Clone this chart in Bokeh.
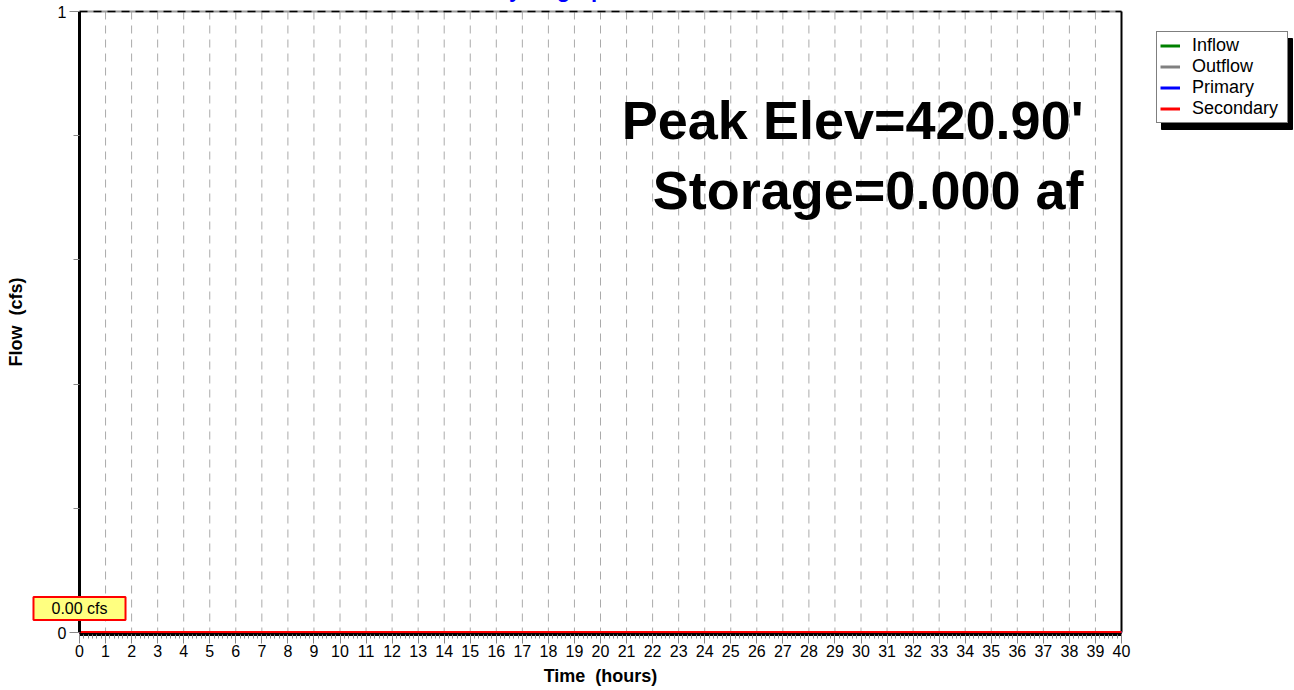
from bokeh.plotting import figure
from bokeh.models import FixedTicker, Label, Legend, LegendItem, Range1d
from bokeh.embed import file_html
from bokeh.resources import INLINE

# ---- data ----
time_hours = [0, 10, 20, 30, 40]
inflow_cfs = [0.0, 0.0, 0.0, 0.0, 0.0]
outflow_cfs = [0.0, 0.0, 0.0, 0.0, 0.0]
primary_cfs = [0.0, 0.0, 0.0, 0.0, 0.0]
secondary_cfs = [0.0, 0.0, 0.0, 0.0, 0.0]
series_names = ["Inflow", "Outflow", "Primary", "Secondary"]
series_colors = ["green", "gray", "blue", "red"]
x_major_ticks = list(range(0, 41))
y_major_ticks = [0, 1]
y_minor_ticks = [0.2, 0.4, 0.6, 0.8]
title_text = "Hydrograph"
peak_text = "Peak Elev=420.90'"
storage_text = "Storage=0.000 af"
peak_flow_text = "0.00 cfs"

FONT = "Liberation Sans"

# ---- layout (page pixels) ----
W, H = 1294, 697          # canvas size
TOP_SHIFT = 8             # canvas is pulled up by 8px
FR_L, FR_R, FR_T, FR_B = 79, 1121, 11, 632   # plot area in page pixels
X_LO, X_HI = x_major_ticks[0], x_major_ticks[-1]
Y_LO, Y_HI = y_major_ticks[0], y_major_ticks[-1]
px_x = (FR_R - FR_L) / (X_HI - X_LO)
px_y = (FR_B - FR_T) / (Y_HI - Y_LO)
X_START = X_LO - FR_L / px_x
X_END = X_HI + (W - FR_R) / px_x
Y_START = Y_LO - ((H - TOP_SHIFT) - FR_B) / px_y
Y_END = Y_HI + (FR_T + TOP_SHIFT) / px_y

def page_x(px):
    return X_START + px / px_x

def page_y(py):
    return Y_END - (py + TOP_SHIFT) / px_y

p = figure(width=W, height=H, x_range=Range1d(X_START, X_END), y_range=Range1d(Y_START, Y_END),
           output_backend="svg", toolbar_location=None,
           min_border_left=0, min_border_right=0, min_border_top=0, min_border_bottom=0)
p.styles = {"margin-top": "-%dpx" % TOP_SHIFT}
p.outline_line_color = None
p.background_fill_color = "white"
p.border_fill_color = "white"
p.xgrid.visible = False
p.ygrid.visible = False

# vertical dashed grid lines
grid_x = x_major_ticks[1:-1]
p.segment(x0=grid_x, y0=[Y_HI] * len(grid_x), x1=grid_x, y1=[Y_LO] * len(grid_x),
          line_color="#aaaaaa", line_width=1, line_dash="8 6")

# frame borders (top gray + dashes, right black)
p.segment(x0=[X_LO], y0=[Y_HI], x1=[X_HI], y1=[Y_HI], line_color="#999999", line_width=2)
p.segment(x0=[X_LO], y0=[Y_HI], x1=[X_HI], y1=[Y_HI], line_color="black", line_width=1.5,
          line_dash="8 6")
p.segment(x0=[X_HI], y0=[Y_LO], x1=[X_HI], y1=[Y_HI], line_color="black", line_width=2)

# legend box and its drop shadow (page pixels)
LEG_L, LEG_T, LEG_R, LEG_B = 1156, 33, 1286, 123
SH = 5
p.quad(left=[page_x(LEG_L + SH)], right=[page_x(LEG_R + SH + 1)],
       top=[page_y(LEG_T + SH)], bottom=[page_y(LEG_B + SH + 1)],
       fill_color="black", fill_alpha=1.0, line_color="black", line_width=1)

# series
renderers = []
for name, ys, color in zip(series_names,
                           [inflow_cfs, outflow_cfs, primary_cfs, secondary_cfs],
                           series_colors):
    r = p.line(time_hours, ys, line_color=color, line_width=3)
    renderers.append(r)

# x axis
xa = p.xaxis[0]
xa.fixed_location = Y_LO - 1.5 / px_y
xa.bounds = (X_LO, X_HI)
xa.ticker = FixedTicker(ticks=x_major_ticks,
                        minor_ticks=[t / 6 for t in range(0, 6 * 40 + 1)])
xa.major_label_text_font = FONT
xa.major_label_text_font_size = "16px"
xa.major_label_text_color = "black"
xa.major_label_standoff = 2
xa.major_tick_out = 9
xa.major_tick_in = 0
xa.minor_tick_out = 4
xa.minor_tick_in = 0
xa.major_tick_line_color = "#888888"
xa.minor_tick_line_color = "#888888"
xa.axis_line_color = "black"
xa.axis_line_width = 3
xa.axis_label = "Time \u00a0(hours)"
xa.axis_label_text_font = FONT
xa.axis_label_text_font_style = "bold"
xa.axis_label_text_font_size = "18px"
xa.axis_label_text_color = "black"
xa.axis_label_standoff = 5

# y axis
ya = p.yaxis[0]
ya.fixed_location = X_LO
ya.bounds = (Y_LO, Y_HI)
ya.ticker = FixedTicker(ticks=y_major_ticks, minor_ticks=y_minor_ticks)
ya.major_label_text_font = FONT
ya.major_label_text_font_size = "16px"
ya.major_label_text_color = "black"
ya.major_label_standoff = 3
ya.major_tick_out = 10
ya.major_tick_in = 0
ya.minor_tick_out = 6
ya.minor_tick_in = 0
ya.major_tick_line_color = "#888888"
ya.minor_tick_line_color = "#888888"
ya.axis_line_color = "black"
ya.axis_line_width = 3
ya.axis_label = "Flow \u00a0(cfs)"
ya.axis_label_text_font = FONT
ya.axis_label_text_font_style = "bold"
ya.axis_label_text_font_size = "18px"
ya.axis_label_text_color = "black"
ya.axis_label_standoff = 29

# legend
items = [LegendItem(label=n, renderers=[r]) for n, r in zip(series_names, renderers)]
legend = Legend(items=items, location=(LEG_L, (H - TOP_SHIFT) - LEG_B),
                orientation="vertical",
                label_text_font=FONT, label_text_font_size="18px",
                label_height=21, glyph_height=21, glyph_width=20, label_standoff=12,
                label_width=92, spacing=0, padding=3, margin=0,
                border_line_color="black", border_line_width=1.5,
                background_fill_color="white", background_fill_alpha=1.0,
                label_text_color="black")
p.add_layout(legend)

# annotations
p.add_layout(Label(x=X_LO, y=Y_HI, x_offset=476, y_offset=22, text=title_text,
                   text_align="center", text_baseline="alphabetic",
                   text_font=FONT, text_font_style="bold", text_font_size="22px",
                   text_color="blue"))
p.add_layout(Label(x=X_HI, y=Y_HI, x_offset=-38, y_offset=-108, text=peak_text,
                   text_align="right", text_baseline="alphabetic",
                   text_font=FONT, text_font_style="bold", text_font_size="54px",
                   text_color="black"))
p.add_layout(Label(x=X_HI, y=Y_HI, x_offset=-38, y_offset=-178, text=storage_text,
                   text_align="right", text_baseline="alphabetic",
                   text_font=FONT, text_font_style="bold", text_font_size="54px",
                   text_color="black"))
p.add_layout(Label(x=X_LO, y=Y_LO, x_offset=0, y_offset=24, text=peak_flow_text,
                   text_align="center", text_baseline="middle",
                   text_font=FONT, text_font_size="16px", text_color="black",
                   background_fill_color="#ffff80", background_fill_alpha=1.0,
                   border_line_color="red", border_line_width=2, padding=(18, 3)))

open("out.html", "w").write(file_html(p, INLINE))
